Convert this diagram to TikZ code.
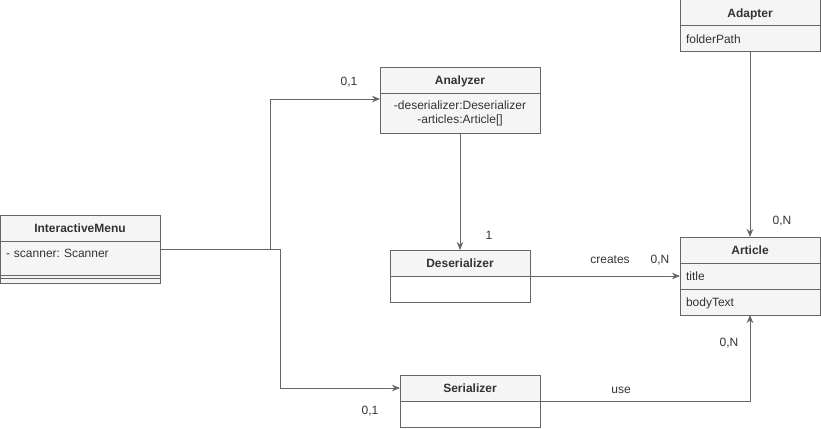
\documentclass[tikz,border=0pt]{standalone}
\usepackage{fontspec}
\setmainfont{Liberation Sans}
\usetikzlibrary{arrows.meta}
\frenchspacing

\definecolor{linegray}{HTML}{666666}
\definecolor{boxgray}{HTML}{F5F5F5}
\definecolor{textgray}{HTML}{333333}

\tikzset{
    every node/.style={font=\fontsize{12}{14}\selectfont,text=textgray},
    umlhead/.style={draw=linegray,fill=boxgray,anchor=north west,inner sep=0pt,outer sep=0pt,
        minimum width=#1,minimum height=26pt,text height=9pt,text depth=0pt,
        font=\bfseries\fontsize{12}{14}\selectfont},
    umlrow/.style={draw=linegray,fill=boxgray,anchor=north west,inner xsep=6pt,inner ysep=0pt,outer sep=0pt,
        text width=#1,minimum height=26pt,text height=9pt,text depth=0pt,align=left},
    umlempty/.style={draw=linegray,fill=white,anchor=north west,inner sep=0pt,outer sep=0pt,
        minimum width=#1,minimum height=26pt},
    mult/.style={inner sep=0pt}
}

\begin{document}
\begin{tikzpicture}[x=1pt,y=-1pt,>={Stealth[length=8pt,width=6.5pt,inset=2.5pt]},line width=1pt]
            \useasboundingbox (0,0) rectangle (821,428);

            % InteractiveMenu
            \node[umlhead=160pt] (menu) at (0,215) {InteractiveMenu};
            \node[umlrow=148pt,minimum height=34pt,text height=16.5pt,text depth=17.5pt] (menuattr) at (0,241) {- scanner: Scanner};
            \node[umlempty=160pt,fill=boxgray,minimum height=3pt] (menusep) at (0,275) {};
            \node[umlempty=160pt,fill=boxgray,minimum height=5pt] (menuops) at (0,278) {};

            % Analyzer
            \node[umlhead=160pt] (analyzer) at (380,67) {Analyzer};
            \node[umlempty=160pt,fill=boxgray,minimum height=40pt,align=center] (analyzerattr) at (380,93)
                {-deserializer:Deserializer\\-articles:Article[]};

            % Deserializer
            \node[umlhead=140pt] (deserializer) at (390,250) {Deserializer};
            \node[umlempty=140pt] (deserializerattr) at (390,276) {};

            % Serializer
            \node[umlhead=140pt] (serializer) at (400,375) {Serializer};
            \node[umlempty=140pt] (serializerattr) at (400,401) {};

            % Adapter
            \node[umlhead=140pt] (adapter) at (680,0) {Adapter};
            \node[umlrow=128pt] (adapterattr) at (680,26) {folderPath};

            % Article
            \node[umlhead=140pt] (article) at (680,237) {Article};
            \node[umlrow=128pt] (articletitle) at (680,263) {title};
            \node[umlrow=128pt] (articlebody) at (680,289) {bodyText};

            %%%%%%%%%%%%%%%%%%%%%%%%%%%%%%%%%%%
            % InteractiveMenu -> Analyzer, Serializer
            \coordinate (menusplit) at (280,249);
            \coordinate (menuup) at (270,249);
            \draw[linegray] (menuattr.east |- menusplit) -- (menusplit);
            \draw[->,linegray] (menuup) |- ([yshift=-6pt]analyzerattr.north west);
            \draw[->,linegray] (menusplit) |- (serializer.west);
            \node[mult] (multanalyzer) at (349,82) {0,1};
            \node[mult] (multserializer) at (370,411) {0,1};

            % Analyzer -> Deserializer
            \draw[->,linegray] (analyzerattr.south) -- (deserializer.north);
            \node[mult] (multdeserializer) at (489,235) {1};

            % Deserializer -> Article
            \draw[->,linegray] (deserializerattr.north east) -- (articletitle.west);
            \node[mult] (creates) at (610,260) {creates};
            \node[mult] (multcreates) at (660,260) {0,N};

            % Adapter -> Article
            \draw[->,linegray] (adapterattr.south) -- (article.north);
            \node[mult] (multadapter) at (782,221) {0,N};

            % Serializer -> Article
            \draw[->,linegray] (serializerattr.north east) -| (articlebody.south);
            \node[mult] (use) at (621,390) {use};
            \node[mult] (multuse) at (729,343) {0,N};
            %%%%%%%%%%%%%%%%%%%%%%%%%%%%%%%%%%%
\end{tikzpicture}
\end{document}
